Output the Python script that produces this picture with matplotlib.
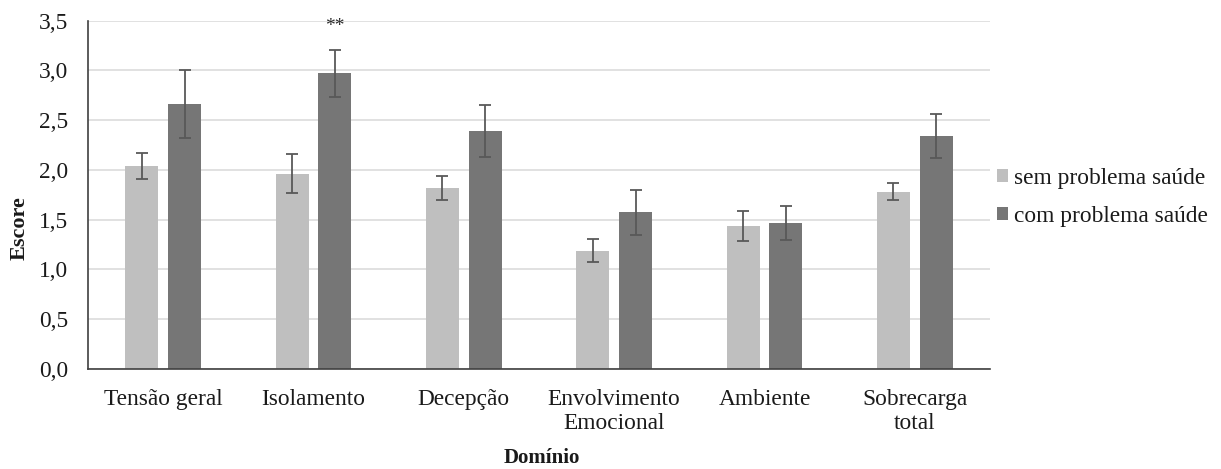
import matplotlib
matplotlib.use("Agg")
import matplotlib.pyplot as plt
import numpy as np

# Domains and mean scores with error margins
categories = ["Tensão geral", "Isolamento", "Decepção", "Envolvimento\nEmocional",
              "Ambiente", "Sobrecarga\ntotal"]
sem_problema = [2.04, 1.96, 1.82, 1.19, 1.44, 1.78]
sem_erro = [0.13, 0.195, 0.12, 0.115, 0.15, 0.085]
com_problema = [2.66, 2.97, 2.39, 1.575, 1.47, 2.34]
com_erro = [0.345, 0.235, 0.26, 0.225, 0.17, 0.22]
series_labels = ["sem problema saúde", "com problema saúde"]
yticks = [0.0, 0.5, 1.0, 1.5, 2.0, 2.5, 3.0, 3.5]
ytick_labels = ["0,0", "0,5", "1,0", "1,5", "2,0", "2,5", "3,0", "3,5"]
signif_idx = 1
signif_text = "**"

plt.rcParams["font.family"] = ["Liberation Serif", "DejaVu Serif"]

W, H = 1221, 469
fig = plt.figure(figsize=(W / 100, H / 100), dpi=100)
ax = fig.add_axes([88 / W, 1 - 369 / H, (990 - 88) / W, (369 - 20.5) / H])

x = np.arange(len(categories))
w = 0.22
off = 0.142
light = "#bfbfbf"
dark = "#767676"
ecol = "#595959"
fs = 16.8

ax.bar(x - off, sem_problema, width=w, color=light, label=series_labels[0], zorder=2)
ax.bar(x + off, com_problema, width=w, color=dark, label=series_labels[1], zorder=2)
ax.errorbar(x - off, sem_problema, yerr=sem_erro, fmt="none", ecolor=ecol,
            elinewidth=1.3, capsize=4.5, capthick=1.3, zorder=3)
ax.errorbar(x + off, com_problema, yerr=com_erro, fmt="none", ecolor=ecol,
            elinewidth=1.3, capsize=4.5, capthick=1.3, zorder=3)

ax.text(x[signif_idx] + off, 3.44, signif_text, ha="center", va="center",
        fontsize=14, color="#2a2a2a", zorder=4, clip_on=False)

ax.set_xlim(-0.5, len(categories) - 0.5)
ax.set_ylim(0, 3.5)
ax.set_yticks(yticks)
ax.set_yticklabels(ytick_labels, fontsize=fs)
ax.set_xticks(x)
ax.set_xticklabels(categories, fontsize=fs, linespacing=1.18)
ax.tick_params(axis="both", length=0, colors="#1a1a1a")
ax.tick_params(axis="y", pad=14)
ax.tick_params(axis="x", pad=14.5)

ax.grid(axis="y", color="#d9d9d9", linewidth=1.1, zorder=0)
ax.set_axisbelow(True)
for s in ["top", "right"]:
    ax.spines[s].set_visible(False)
for s in ["left", "bottom"]:
    ax.spines[s].set_color("#404040")
    ax.spines[s].set_linewidth(1.2)

fig.text(19.5 / W, 1 - 228 / H, "Escore", rotation=90, ha="center", va="center",
         fontsize=16, fontweight="bold", color="#1a1a1a")
fig.text(542 / W, 1 - 458 / H, "Domínio", ha="center", va="center",
         fontsize=15, fontweight="bold", color="#1a1a1a")

fig.legend(*ax.get_legend_handles_labels(), loc="center left",
           bbox_to_anchor=(997 / W, 1 - 197.5 / H), bbox_transform=fig.transFigure,
           frameon=False, fontsize=fs, handlelength=0.47, handleheight=0.47,
           handletextpad=0.28, labelspacing=0.72, borderpad=0, borderaxespad=0,
           labelcolor="#1a1a1a")

fig.savefig("out.png", dpi=100, facecolor="white")
